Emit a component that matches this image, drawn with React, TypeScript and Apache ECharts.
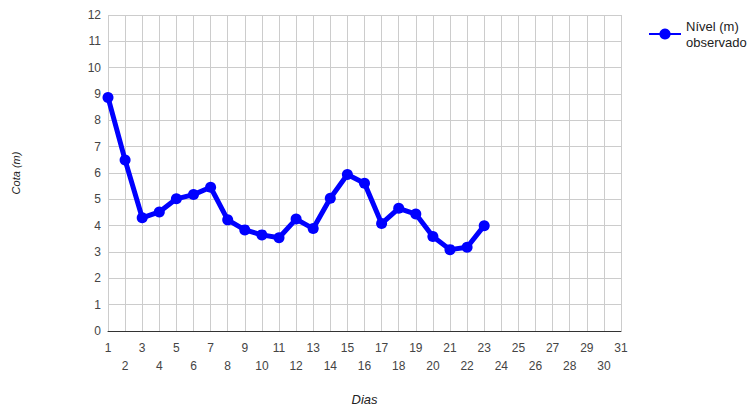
import React, { useEffect, useRef } from "react";
import * as echarts from "echarts";

const days = Array.from({ length: 31 }, (_, i) => i + 1);
const seriesName = "Nível (m) observado";
const levels: [number, number][] = [
  [1, 8.87], [2, 6.49], [3, 4.3], [4, 4.52], [5, 5.02], [6, 5.18], [7, 5.46],
  [8, 4.22], [9, 3.84], [10, 3.65], [11, 3.54], [12, 4.25], [13, 3.89],
  [14, 5.04], [15, 5.94], [16, 5.61], [17, 4.08], [18, 4.66], [19, 4.44],
  [20, 3.59], [21, 3.09], [22, 3.18], [23, 4.0],
];
const yMin = 0;
const yMax = 12;

export default function App() {
  const ref = useRef<HTMLDivElement>(null);
  useEffect(() => {
    if (!ref.current) return;
    const chart = echarts.init(ref.current, undefined, { renderer: "svg" });
    chart.setOption({
      animation: false,
      backgroundColor: "#ffffff",
      textStyle: { fontFamily: "Liberation Sans, Arial, sans-serif" },
      grid: {
        left: 108,
        right: 135,
        top: 15,
        bottom: 78,
        containLabel: false,
        outerBoundsMode: "none",
      },
      legend: {
        left: 648,
        top: 10,
        padding: 0,
        itemWidth: 32,
        itemHeight: 14,
        itemGap: 4,
        data: [seriesName],
        formatter: () => "Nível (m)\nobservado",
        textStyle: {
          fontSize: 13,
          color: "#222",
          lineHeight: 16,
          padding: [16, 0, 0, 0],
        },
      },
      xAxis: {
        type: "value",
        min: days[0],
        max: days[days.length - 1],
        interval: 1,
        name: "Dias",
        nameLocation: "middle",
        nameGap: 62,
        nameTextStyle: { fontStyle: "italic", fontSize: 13, color: "#222" },
        axisLine: { show: true, lineStyle: { color: "#333", width: 1 } },
        axisTick: { show: false },
        splitLine: { show: true, lineStyle: { color: "#cccccc" } },
        axisLabel: {
          margin: 8,
          fontSize: 12,
          color: "#444",
          lineHeight: 18,
          formatter: (v: number) => (v % 2 === 0 ? "\n" + v : String(v)),
        },
      },
      yAxis: {
        type: "value",
        min: yMin,
        max: yMax,
        interval: 1,
        name: "Cota (m)",
        nameLocation: "middle",
        nameRotate: 90,
        nameGap: 87,
        nameTextStyle: { fontStyle: "italic", fontSize: 11, color: "#222" },
        axisLine: { show: false },
        axisTick: { show: false },
        splitLine: { show: true, lineStyle: { color: "#cccccc" } },
        axisLabel: { margin: 7, fontSize: 12, color: "#444" },
      },
      series: [
        {
          name: seriesName,
          type: "line",
          data: levels,
          symbol: "circle",
          symbolSize: 11,
          lineStyle: { color: "#0000ff", width: 5 },
          itemStyle: { color: "#0000ff" },
        },
      ],
    });
    return () => chart.dispose();
  }, []);
  return (
    <div
      ref={ref}
      style={{ position: "fixed", left: 0, top: 0, width: 756, height: 409 }}
    />
  );
}
